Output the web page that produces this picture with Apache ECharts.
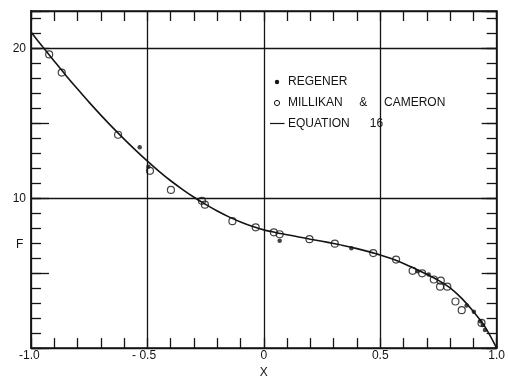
<!DOCTYPE html>
<html>
<head>
<meta charset="utf-8">
<script src="https://cdn.jsdelivr.net/npm/echarts@6/dist/echarts.min.js"></script>
<style>
html,body{margin:0;padding:0;background:#fff;}
#chart{width:508px;height:384px;}
</style>
</head>
<body>
<div id="chart"></div>
<script>
// ---- data ----
const curveX = [-1.0,-0.95,-0.9,-0.85,-0.8,-0.75,-0.7,-0.65,-0.6,-0.55,-0.5,-0.45,-0.4,-0.35,-0.3,-0.25,-0.2,-0.15,-0.1,-0.05,0,0.05,0.1,0.15,0.2,0.25,0.3,0.35,0.4,0.45,0.5,0.55,0.6,0.65,0.7,0.75,0.8,0.85,0.9,0.95,1.0];
const curveF = [21.1,20.11,19.15,18.2,17.29,16.4,15.55,14.73,13.95,13.2,12.48,11.8,11.17,10.6,10.07,9.59,9.15,8.76,8.42,8.13,7.89,7.72,7.57,7.42,7.27,7.13,6.98,6.82,6.64,6.44,6.22,5.96,5.65,5.3,4.93,4.52,4.02,3.32,2.45,1.42,0.0];

const millikanX = [-0.922,-0.868,-0.626,-0.489,-0.399,-0.266,-0.253,-0.135,-0.035,0.043,0.068,0.196,0.305,0.47,0.568,0.639,0.68,0.73,0.76,0.757,0.788,0.823,0.85,0.935];
const millikanF = [19.6,18.39,14.24,11.83,10.56,9.83,9.57,8.47,8.06,7.73,7.6,7.27,6.97,6.34,5.91,5.16,4.99,4.58,4.5,4.1,4.1,3.11,2.53,1.68];

const regenerX = [-0.533,-0.496,0.068,0.376,0.66,0.708,0.871,0.902,0.93,0.94,0.95];
const regenerF = [13.4,12.1,7.16,6.67,5.13,4.92,2.85,2.42,1.8,1.55,1.2];

const xTickValues = [-1, -0.5, 0, 0.5, 1];
const xTickLabels = ['-1.0 ', '- 0.5  ', '0', '0.5', '1.0'];
const yTickValues = [10, 20];
const yTickLabels = ['10', '20'];

const legendNames = ['REGENER', 'MILLIKAN     &     CAMERON', 'EQUATION      16'];
const xName = 'X';
const yName = 'F';

// ---- chart ----
const INK = '#141414';
const FONT = 'Liberation Sans';
const chart = echarts.init(document.getElementById('chart'), null, {renderer: 'canvas'});

function zip(xs, ys) { return xs.map((x, i) => [x, ys[i]]); }

const baseY = {
  type: 'value', min: 0, max: 22.5, gridIndex: 0,
  axisLabel: {show: false}, splitLine: {show: false}
};

const option = {
  backgroundColor: '#ffffff',
  animation: false,
  grid: {left: 31, right: 9, top: 11, bottom: 24, containLabel: false},
  xAxis: [
    {
      type: 'value', min: -1, max: 1, interval: 0.5, position: 'bottom',
      name: xName, nameLocation: 'middle', nameGap: 14,
      nameTextStyle: {color: INK, fontFamily: FONT, fontSize: 12},
      axisLine: {show: true, onZero: false, lineStyle: {color: INK, width: 1.6}},
      axisTick: {show: true, inside: true, length: 10, lineStyle: {color: INK, width: 1.3}},
      minorTick: {show: true, splitNumber: 5, length: 10, lineStyle: {color: INK, width: 1.3}},
      splitLine: {show: true, lineStyle: {color: INK, width: 1.3}},
      axisLabel: {
        color: INK, fontFamily: FONT, fontSize: 12, margin: 2,
        formatter: v => { const i = xTickValues.findIndex(t => Math.abs(t - v) < 1e-9); return i >= 0 ? xTickLabels[i] : ''; }
      }
    },
    {
      type: 'value', min: -1, max: 1, interval: 0.5, position: 'top',
      axisLine: {show: true, onZero: false, lineStyle: {color: INK, width: 1.6}},
      axisTick: {show: true, inside: true, length: 10, lineStyle: {color: INK, width: 1.3}},
      minorTick: {show: true, splitNumber: 5, length: 10, lineStyle: {color: INK, width: 1.3}},
      splitLine: {show: false},
      axisLabel: {show: false}
    }
  ],
  yAxis: [
    Object.assign({}, baseY, {
      position: 'left', interval: 1,
      axisLine: {show: true, onZero: false, lineStyle: {color: INK, width: 1.8}},
      axisTick: {show: true, inside: true, length: 10, lineStyle: {color: INK, width: 1.3}},
      axisLabel: {
        show: true, color: INK, fontFamily: FONT, fontSize: 12, margin: 5,
        formatter: v => { const i = yTickValues.indexOf(v); return i >= 0 ? yTickLabels[i] : ''; }
      }
    }),
    Object.assign({}, baseY, {
      position: 'right', interval: 1,
      axisLine: {show: true, onZero: false, lineStyle: {color: INK, width: 1.6}},
      axisTick: {show: true, inside: true, length: 10, lineStyle: {color: INK, width: 1.3}}
    }),
    Object.assign({}, baseY, {
      position: 'left', interval: 5,
      axisLine: {show: false, onZero: false},
      axisTick: {show: true, inside: true, length: 18, lineStyle: {color: INK, width: 1.3}}
    }),
    Object.assign({}, baseY, {
      position: 'right', interval: 5,
      axisLine: {show: false, onZero: false},
      axisTick: {show: true, inside: true, length: 15, lineStyle: {color: INK, width: 1.3}}
    }),
    Object.assign({}, baseY, {
      position: 'left', interval: 10,
      axisLine: {show: false, onZero: false},
      axisTick: {show: false},
      splitLine: {show: true, lineStyle: {color: INK, width: 1.3}}
    })
  ],
  series: [
    {
      name: legendNames[2], type: 'line', xAxisIndex: 0, yAxisIndex: 0,
      data: zip(curveX, curveF), smooth: 0.3, showSymbol: false, symbol: 'none',
      lineStyle: {color: INK, width: 1.6}, z: 3
    },
    {
      name: legendNames[1], type: 'scatter', xAxisIndex: 0, yAxisIndex: 0,
      data: zip(millikanX, millikanF), symbol: 'circle', symbolSize: 7,
      itemStyle: {color: 'rgba(255,255,255,0)', borderColor: INK, borderWidth: 1.2}, z: 4
    },
    {
      name: legendNames[0], type: 'scatter', xAxisIndex: 0, yAxisIndex: 0,
      data: zip(regenerX, regenerF), symbol: 'circle', symbolSize: 4.5,
      itemStyle: {color: INK}, z: 5
    }
  ],
  graphic: [
    {type: 'text', left: 16, top: 239, style: {text: yName, fill: INK, font: '12px "Liberation Sans"'}},
    {type: 'circle', shape: {cx: 277, cy: 82, r: 2.2}, style: {fill: INK}},
    {type: 'text', x: 288, y: 82, style: {text: legendNames[0], fill: INK, font: '12px "Liberation Sans"', verticalAlign: 'middle'}},
    {type: 'circle', shape: {cx: 277, cy: 103, r: 2.6}, style: {fill: 'none', stroke: INK, lineWidth: 1}},
    {type: 'text', x: 288, y: 103, style: {text: legendNames[1], fill: INK, font: '12px "Liberation Sans"', verticalAlign: 'middle'}},
    {type: 'line', shape: {x1: 270, y1: 123.5, x2: 284.5, y2: 123.5}, style: {stroke: INK, lineWidth: 1.2}},
    {type: 'text', x: 288, y: 123.5, style: {text: legendNames[2], fill: INK, font: '12px "Liberation Sans"', verticalAlign: 'middle'}}
  ]
};
chart.setOption(option);
</script>
</body>
</html>
